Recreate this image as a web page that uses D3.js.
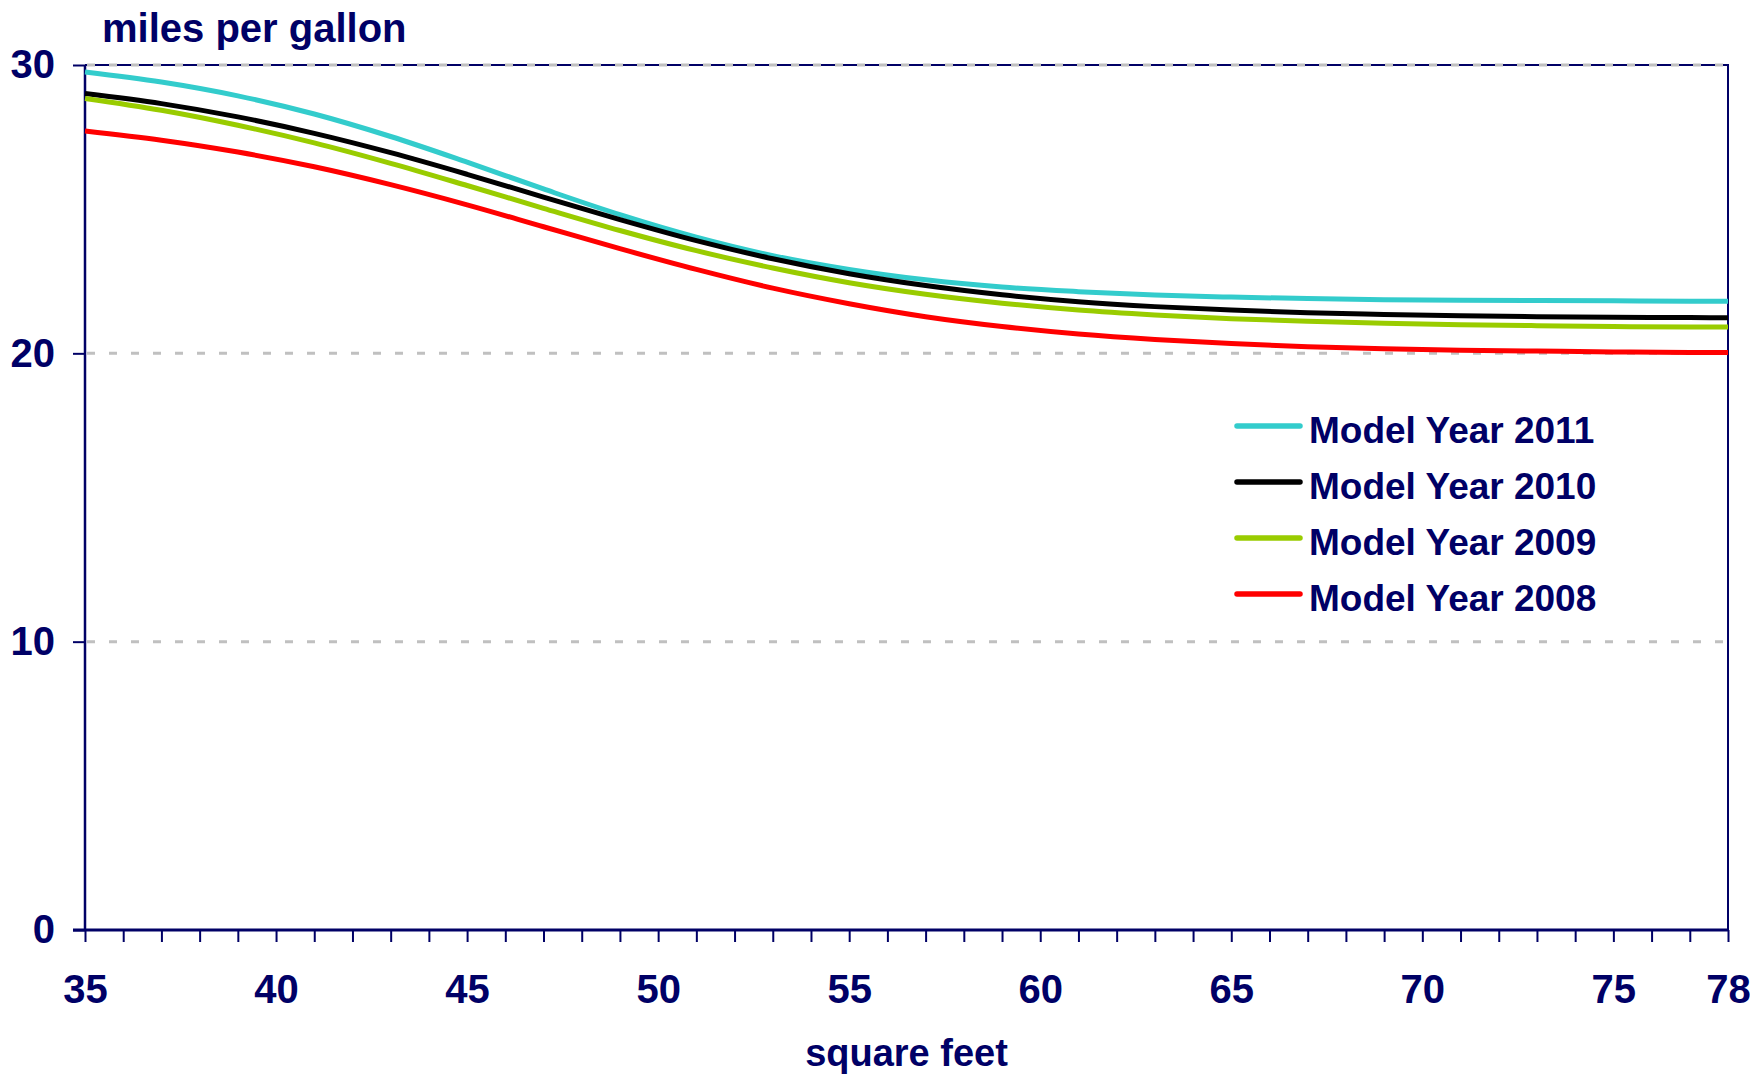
<!DOCTYPE html>
<html>
<head>
<meta charset="utf-8">
<script src="https://cdn.jsdelivr.net/npm/d3@7"></script>
<style>
  body { margin: 0; background: #fff; }
  svg text { font-family: "Liberation Sans", Arial, sans-serif; font-weight: bold; fill: #000066; }
</style>
</head>
<body>
<svg id="chart" width="1750" height="1078"></svg>
<script>
// footprint (square feet) and fuel economy targets
var sqft   = [35, 37, 39, 41, 43, 45, 47, 49, 51, 53, 55, 57, 59, 61, 63, 65, 67, 69, 71, 73, 75, 77, 78];
var my2011 = [29.76, 29.41, 28.93, 28.30, 27.52, 26.63, 25.70, 24.81, 24.03, 23.39, 22.91, 22.55, 22.30, 22.14, 22.02, 21.95, 21.90, 21.86, 21.84, 21.83, 21.82, 21.81, 21.81];
var my2010 = [29.01, 28.66, 28.20, 27.63, 26.96, 26.21, 25.42, 24.64, 23.91, 23.28, 22.76, 22.35, 22.03, 21.79, 21.62, 21.50, 21.41, 21.35, 21.30, 21.27, 21.25, 21.24, 21.23];
var my2009 = [28.84, 28.43, 27.91, 27.30, 26.59, 25.82, 25.03, 24.26, 23.56, 22.96, 22.45, 22.05, 21.74, 21.50, 21.33, 21.20, 21.11, 21.04, 20.99, 20.96, 20.93, 20.91, 20.91];
var my2008 = [27.71, 27.39, 26.98, 26.47, 25.85, 25.15, 24.39, 23.63, 22.91, 22.26, 21.72, 21.27, 20.93, 20.67, 20.48, 20.34, 20.23, 20.16, 20.11, 20.08, 20.05, 20.03, 20.03];

var seriesNames  = ["Model Year 2011", "Model Year 2010", "Model Year 2009", "Model Year 2008"];
var seriesValues = [my2011, my2010, my2009, my2008];
var seriesColors = ["#33CCCC", "#000000", "#99CC00", "#FF0000"];

var yTicks  = [0, 10, 20, 30];
var xLabels = [35, 40, 45, 50, 55, 60, 65, 70, 75, 78];

var navy = "#000066";
var plotLeft = 85, plotRight = 1728, plotTop = 65, plotBottom = 930;

var svg = d3.select("#chart");

var x = d3.scaleLinear().domain([35, 78]).range([plotLeft, plotRight]);
var y = d3.scaleLinear().domain([0, 30]).range([plotBottom, plotTop]);

// plot area border (top + right)
svg.append("path")
  .attr("d", "M" + plotLeft + "," + plotTop + "H" + plotRight + "V" + plotBottom)
  .attr("fill", "none")
  .attr("stroke", navy)
  .attr("stroke-width", 2);

// dashed gridlines
svg.append("g").selectAll("line")
  .data(yTicks.filter(function(d){ return d > 0; }))
  .enter().append("line")
  .attr("x1", plotLeft + 2)
  .attr("x2", plotRight)
  .attr("y1", function(d){ return y(d); })
  .attr("y2", function(d){ return y(d); })
  .attr("stroke", "#c0c0c0")
  .attr("stroke-width", 3)
  .attr("stroke-dasharray", "8,14");

// y axis
var yAxis = svg.append("g")
  .attr("transform", "translate(" + plotLeft + ",0)")
  .call(d3.axisLeft(y).tickValues(yTicks).tickSize(12).tickPadding(18));
yAxis.select(".domain").remove();
yAxis.selectAll("line").attr("stroke", navy).attr("stroke-width", 2);
yAxis.selectAll("text").style("font-size", "40px").attr("fill", navy);

// x axis
var xAxis = svg.append("g")
  .attr("transform", "translate(0," + plotBottom + ")")
  .call(d3.axisBottom(x).tickValues(d3.range(35, 79)).tickSize(12).tickPadding(33)
    .tickFormat(function(d){ return xLabels.indexOf(d) >= 0 ? d : ""; }));
xAxis.select(".domain").remove();
xAxis.selectAll("line").attr("stroke", navy).attr("stroke-width", 2);
xAxis.selectAll("text").style("font-size", "40px").attr("fill", navy);

// axis lines
svg.append("line")
  .attr("x1", plotLeft).attr("x2", plotLeft).attr("y1", plotTop).attr("y2", plotBottom)
  .attr("stroke", navy).attr("stroke-width", 2.5);
svg.append("line")
  .attr("x1", plotLeft - 12).attr("x2", plotRight).attr("y1", plotBottom).attr("y2", plotBottom)
  .attr("stroke", navy).attr("stroke-width", 3);

// series
var line = d3.line()
  .x(function(d, i){ return x(sqft[i]); })
  .y(function(d){ return y(d); })
  .curve(d3.curveMonotoneX);

svg.append("g").selectAll("path")
  .data(seriesValues)
  .enter().append("path")
  .attr("d", line)
  .attr("fill", "none")
  .attr("stroke", function(d, i){ return seriesColors[i]; })
  .attr("stroke-width", 5)
  .attr("stroke-linejoin", "round");

// legend
var legend = svg.append("g").selectAll("g")
  .data(seriesNames)
  .enter().append("g")
  .attr("transform", function(d, i){ return "translate(1237," + (426 + i * 56) + ")"; });

legend.append("line")
  .attr("x1", 0).attr("x2", 63)
  .attr("stroke", function(d, i){ return seriesColors[i]; })
  .attr("stroke-width", 5.5)
  .attr("stroke-linecap", "round");

legend.append("text")
  .attr("x", 72)
  .attr("y", 16.5)
  .style("font-size", "37px")
  .text(function(d){ return d; });

// axis titles
svg.append("text")
  .attr("x", 102).attr("y", 42)
  .style("font-size", "40px")
  .text("miles per gallon");

svg.append("text")
  .attr("x", (plotLeft + plotRight) / 2).attr("y", 1066)
  .attr("text-anchor", "middle")
  .style("font-size", "38px")
  .text("square feet");
</script>
</body>
</html>
